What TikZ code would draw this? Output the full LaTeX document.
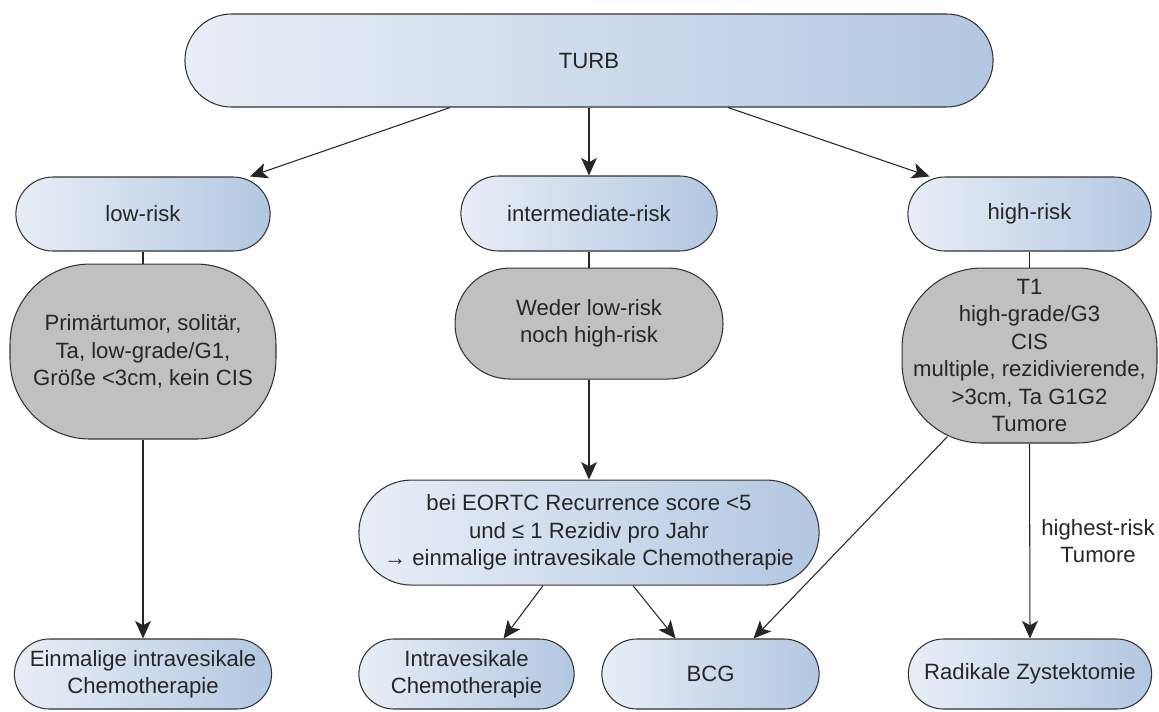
\documentclass[tikz,border=0pt]{standalone}
\usepackage{fontspec}
\setmainfont{Liberation Sans}
\usetikzlibrary{arrows.meta, positioning, shapes.misc, calc}

\definecolor{boxleft}{HTML}{E8EEF7}
\definecolor{boxright}{HTML}{B3C7E1}
\definecolor{critgrey}{HTML}{C0C0C0}

\begin{document}
\begin{tikzpicture}[x=0.02cm, y=-0.02cm,
                every node/.style={font=\fontsize{12.6}{15.6}\selectfont, text=black!85},
                stage/.style={rounded rectangle, draw=black!80, line width=0.6pt,
                              left color=boxleft, right color=boxright, align=center},
                crit/.style={rectangle, draw=black!80, line width=0.6pt, fill=critgrey,
                             align=center, rounded corners=1.6cm},
                link/.style={line width=0.6pt, black!85},
                flow/.style={link, -{Stealth[length=10pt, width=9pt, inset=2.5pt]}}]

                \useasboundingbox (0,0) rectangle (1159,711);

                % Top and risk groups
                \node[stage, minimum width=16.4cm, minimum height=1.86cm] (turb) at (589,60.5) {TURB};
                \node[stage, minimum width=5.32cm, minimum height=1.48cm] (low) at (143,214) {low-risk};
                \node[stage, minimum width=5.36cm, minimum height=1.5cm] (mid) at (589,213.5) {intermediate-risk};
                \node[stage, minimum width=5.1cm, minimum height=1.48cm] (high) at (1029.5,214) {high-risk};

                % Criteria (grey)
                \node[crit, minimum width=5.32cm, minimum height=3.5cm, below=0.24cm of low] (lowg)
                    {Primärtumor, solitär,\\Ta, low-grade/G1,\\Größe <3cm, kein CIS};
                \node[crit, minimum width=5.36cm, minimum height=2.22cm, rounded corners=1.1cm,
                      below=0.32cm of mid] (midg) {Weder low-risk\\noch high-risk};
                \node[crit, minimum width=5.1cm, minimum height=3.5cm, below=0.32cm of high] (highg)
                    {T1\\high-grade/G3\\CIS\\multiple, rezidivierende,\\>3cm, Ta G1G2\\Tumore};

                % Therapy
                \node[stage, minimum width=9.44cm, minimum height=2.1cm, below=2cm of midg] (eortc)
                    {bei EORTC Recurrence score <5\\und ≤ 1 Rezidiv pro Jahr\\→ einmalige intravesikale Chemotherapie};
                \node[stage, minimum width=5.08cm, minimum height=1.4cm] (einm) at (143,674)
                    {Einmalige intravesikale\\Chemotherapie};
                \node[stage, minimum width=4.54cm, minimum height=1.4cm] (intra) at (466.5,674)
                    {Intravesikale\\Chemotherapie};
                \node[stage, minimum width=4.58cm, minimum height=1.4cm] (bcg) at (710.5,674) {BCG};
                \node[stage, minimum width=5.1cm, minimum height=1.4cm] (radik) at (1030,674)
                    {Radikale Zystektomie};

                % Connectors
                \draw[flow] ($(turb.south)+(-139,0)$) -- ($(low.north)+(107,0)$);
                \draw[flow] (turb.south) -- (mid.north);
                \draw[flow] ($(turb.south)+(139,0)$) -- ($(high.north)+(-100,0)$);

                \draw[link] (low.south) -- (lowg.north);
                \draw[link] (mid.south) -- (midg.north);
                \draw[link] (high.south) -- (highg.north);

                \draw[flow] (lowg.south) -- (einm.north);
                \draw[flow] (midg.south) -- (eortc.north);
                \draw[flow] ($(eortc.south)+(-46,0)$) -- ($(intra.north)+(37,0)$);
                \draw[flow] ($(eortc.south)+(44,0)$) -- ($(bcg.north)+(-35,0)$);

                \coordinate (hgout) at ($(highg.center)+(-82,81)$);
                \draw[flow] (hgout) -- ($(bcg.north)+(43,0)$);
                \draw[flow] (highg.south) -- (radik.north)
                    node[midway, right=3pt, align=center] (hrlabel) {highest-risk\\Tumore};
            \end{tikzpicture}
\end{document}
